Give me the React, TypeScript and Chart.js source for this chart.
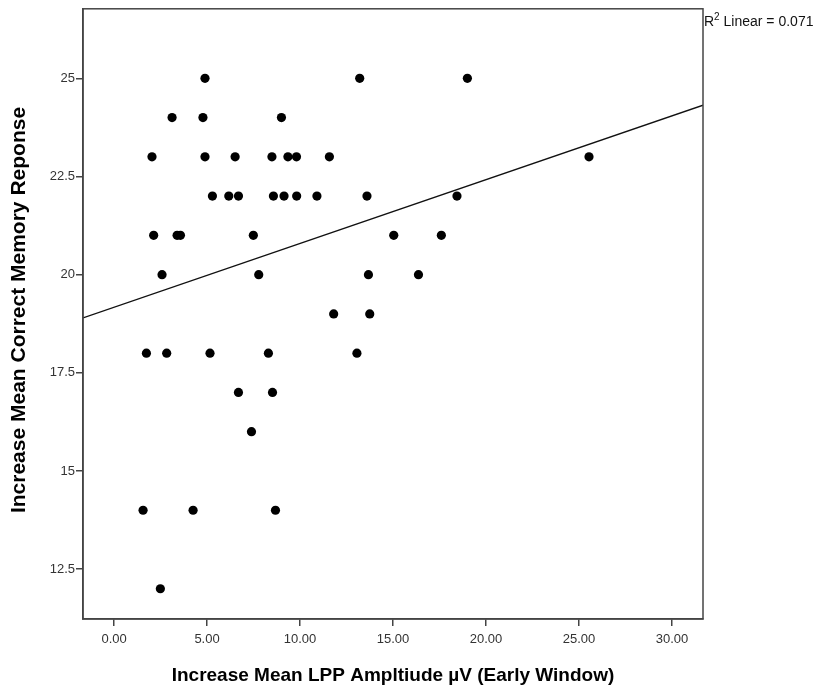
import React, { useEffect, useRef } from "react";
import { Chart, registerables } from "chart.js";

Chart.register(...registerables);

// LPP amplitude increase (µV) and correct memory responses, grouped by score
const lppAmplitude = [
  4.89, 13.21, 19.0,
  3.12, 4.78, 9.0,
  2.04, 4.89, 6.51, 8.49, 9.35, 9.81, 11.58, 25.54,
  5.29, 6.17, 6.69, 8.57, 9.14, 9.82, 10.91, 13.6, 18.44,
  2.13, 3.39, 3.57, 7.49, 15.04, 17.6,
  2.58, 7.78, 13.68, 16.37,
  11.81, 13.75,
  1.74, 2.83, 5.16, 8.3, 13.06,
  6.69, 8.52,
  7.39,
  1.56, 4.25, 8.68,
  2.49,
];
const memoryResponse = [
  25, 25, 25,
  24, 24, 24,
  23, 23, 23, 23, 23, 23, 23, 23,
  22, 22, 22, 22, 22, 22, 22, 22, 22,
  21, 21, 21, 21, 21, 21,
  20, 20, 20, 20,
  19, 19,
  18, 18, 18, 18, 18,
  17, 17,
  16,
  14, 14, 14,
  12,
];

const xTicks = [0, 5, 10, 15, 20, 25, 30];
const yTicks = [12.5, 15, 17.5, 20, 22.5, 25];
const xRange = [-1.67, 31.67];
const yRange = [11.23, 26.77];
const rSquaredText = "0.071";

const xTitle = "Increase Mean LPP Ampltiude µV (Early Window)";
const yTitle = "Increase Mean Correct Memory Reponse";

const FONT = "'Liberation Sans', Arial, sans-serif";
const AXIS = "#444444";

function leastSquares(xs: number[], ys: number[]) {
  const n = xs.length;
  const mx = xs.reduce((a, b) => a + b, 0) / n;
  const my = ys.reduce((a, b) => a + b, 0) / n;
  let sxy = 0;
  let sxx = 0;
  for (let i = 0; i < n; i++) {
    sxy += (xs[i] - mx) * (ys[i] - my);
    sxx += (xs[i] - mx) * (xs[i] - mx);
  }
  const slope = sxy / sxx;
  return { slope, intercept: my - slope * mx };
}

const frameAndLabels = {
  id: "frameAndLabels",
  afterDraw(chart: any) {
    const { ctx, chartArea } = chart;
    const { left, right, top, bottom } = chartArea;
    ctx.save();
    ctx.strokeStyle = AXIS;
    ctx.lineWidth = 1.5;
    ctx.strokeRect(left, top, right - left, bottom - top);

    ctx.fillStyle = "#000";
    ctx.font = `bold 19px ${FONT}`;
    ctx.textAlign = "center";
    ctx.textBaseline = "middle";
    ctx.fillText(xTitle, (left + right) / 2, 676);

    ctx.save();
    ctx.font = `bold 21px ${FONT}`;
    ctx.translate(19, 310);
    ctx.rotate(-Math.PI / 2);
    ctx.fillText(yTitle, 0, 0);
    ctx.restore();

    // R² annotation beside the top-right corner
    ctx.textAlign = "left";
    ctx.textBaseline = "alphabetic";
    ctx.fillStyle = "#111";
    let x = right + 1;
    const base = 26;
    ctx.font = `14px ${FONT}`;
    ctx.fillText("R", x, base);
    x += ctx.measureText("R").width;
    ctx.font = `10px ${FONT}`;
    ctx.fillText("2", x, base - 6);
    x += ctx.measureText("2").width;
    ctx.font = `14px ${FONT}`;
    ctx.fillText(` Linear = ${rSquaredText}`, x, base);
    ctx.restore();
  },
};

export default function App() {
  const canvasRef = useRef<HTMLCanvasElement | null>(null);

  useEffect(() => {
    if (!canvasRef.current) return;
    const points = lppAmplitude.map((x, i) => ({ x, y: memoryResponse[i] }));
    const { slope, intercept } = leastSquares(lppAmplitude, memoryResponse);
    const fitLine = xRange.map((x) => ({ x, y: intercept + slope * x }));

    const chart = new Chart(canvasRef.current, {
      type: "scatter",
      data: {
        datasets: [
          {
            data: points,
            backgroundColor: "#000",
            borderWidth: 0,
            pointRadius: 4.6,
            pointHoverRadius: 4.6,
          },
          {
            type: "line",
            data: fitLine,
            borderColor: "#111",
            borderWidth: 1.3,
            pointRadius: 0,
            fill: false,
          } as any,
        ],
      },
      options: {
        responsive: false,
        animation: false,
        events: [],
        layout: { padding: { top: 7, right: 116, left: 0, bottom: 0 } },
        plugins: {
          legend: { display: false },
          tooltip: { enabled: false },
        },
        scales: {
          x: {
            type: "linear",
            min: xRange[0],
            max: xRange[1],
            afterFit: (s: any) => {
              s.height = 74;
            },
            afterBuildTicks: (s: any) => {
              s.ticks = xTicks.map((value) => ({ value }));
            },
            grid: {
              drawOnChartArea: false,
              drawTicks: true,
              tickLength: 7,
              color: AXIS,
              lineWidth: 1.5,
            },
            border: { display: true, color: AXIS, width: 1.5 },
            ticks: {
              padding: 6,
              color: "#333",
              font: { family: FONT, size: 13 },
              maxRotation: 0,
              callback: (v: any) => Number(v).toFixed(2),
            },
          },
          y: {
            type: "linear",
            min: yRange[0],
            max: yRange[1],
            afterFit: (s: any) => {
              s.width = 83;
            },
            afterBuildTicks: (s: any) => {
              s.ticks = yTicks.map((value) => ({ value }));
            },
            grid: {
              drawOnChartArea: false,
              drawTicks: true,
              tickLength: 7,
              color: AXIS,
              lineWidth: 1.5,
            },
            border: { display: true, color: AXIS, width: 1.5 },
            ticks: {
              padding: 1,
              color: "#333",
              font: { family: FONT, size: 13 },
              callback: (v: any) => String(v),
            },
          },
        },
      },
      plugins: [frameAndLabels],
    });
    return () => chart.destroy();
  }, []);

  return (
    <div style={{ position: "fixed", left: 0, top: 0, width: 819, height: 693, background: "#fff" }}>
      <canvas ref={canvasRef} width={819} height={693} />
    </div>
  );
}
